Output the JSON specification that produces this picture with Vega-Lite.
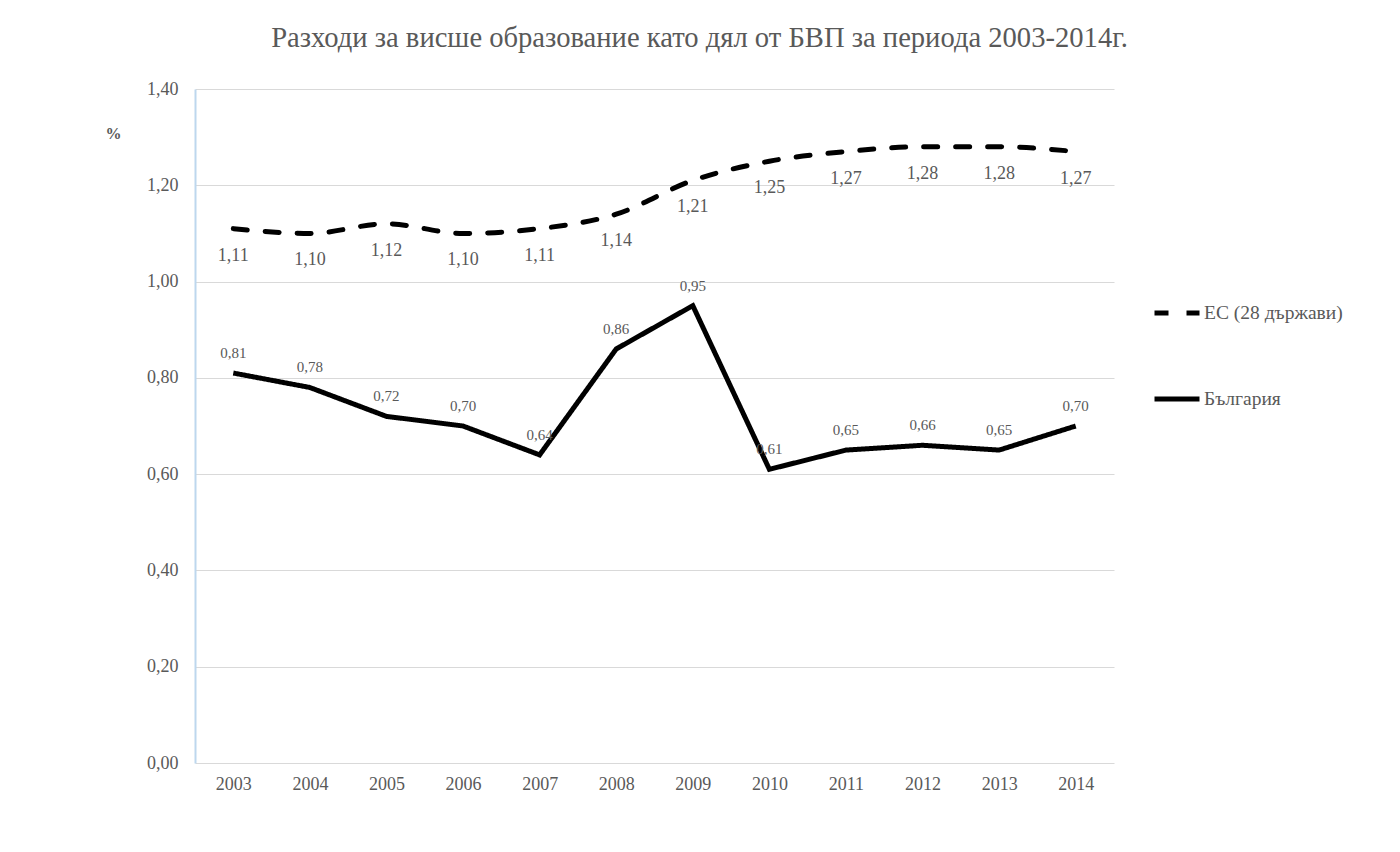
{
  "$schema": "https://vega.github.io/schema/vega-lite/v6.json",
  "width": 919,
  "height": 674,
  "autosize": {"type": "none"},
  "padding": {"left": 195, "top": 89, "right": 286, "bottom": 89},
  "background": "white",
  "title": {
    "text": "Разходи за висше образование като дял от БВП за периода 2003-2014г.",
    "font": "Liberation Serif",
    "fontSize": 28.6,
    "fontWeight": "normal",
    "color": "#595959",
    "anchor": "middle",
    "dx": 45,
    "offset": 27
  },
  "data": {
    "values": [
      {"year": "2003", "series": "ЕС (28 държави)", "value": 1.11},
      {"year": "2004", "series": "ЕС (28 държави)", "value": 1.10},
      {"year": "2005", "series": "ЕС (28 държави)", "value": 1.12},
      {"year": "2006", "series": "ЕС (28 държави)", "value": 1.10},
      {"year": "2007", "series": "ЕС (28 държави)", "value": 1.11},
      {"year": "2008", "series": "ЕС (28 държави)", "value": 1.14},
      {"year": "2009", "series": "ЕС (28 държави)", "value": 1.21},
      {"year": "2010", "series": "ЕС (28 държави)", "value": 1.25},
      {"year": "2011", "series": "ЕС (28 държави)", "value": 1.27},
      {"year": "2012", "series": "ЕС (28 държави)", "value": 1.28},
      {"year": "2013", "series": "ЕС (28 държави)", "value": 1.28},
      {"year": "2014", "series": "ЕС (28 държави)", "value": 1.27},
      {"year": "2003", "series": "България", "value": 0.81},
      {"year": "2004", "series": "България", "value": 0.78},
      {"year": "2005", "series": "България", "value": 0.72},
      {"year": "2006", "series": "България", "value": 0.70},
      {"year": "2007", "series": "България", "value": 0.64},
      {"year": "2008", "series": "България", "value": 0.86},
      {"year": "2009", "series": "България", "value": 0.95},
      {"year": "2010", "series": "България", "value": 0.61},
      {"year": "2011", "series": "България", "value": 0.65},
      {"year": "2012", "series": "България", "value": 0.66},
      {"year": "2013", "series": "България", "value": 0.65},
      {"year": "2014", "series": "България", "value": 0.70}
    ]
  },
  "encoding": {
    "x": {
      "field": "year",
      "type": "ordinal",
      "scale": {"type": "point", "padding": 0.5},
      "axis": {
        "title": null,
        "labelAngle": 0,
        "domain": false,
        "ticks": false,
        "grid": false,
        "labelPadding": 12,
        "labelFontSize": 18,
        "labelFont": "Liberation Serif",
        "labelColor": "#595959"
      }
    },
    "y": {
      "field": "value",
      "type": "quantitative",
      "scale": {"domain": [0, 1.4], "nice": false},
      "axis": {
        "values": [0, 0.2, 0.4, 0.6, 0.8, 1.0, 1.2, 1.4],
        "format": ".2f",
        "title": "%",
        "titleAngle": 0,
        "titleX": -82,
        "titleY": 44,
        "titleAlign": "center",
        "titleBaseline": "middle",
        "titleFont": "Liberation Serif",
        "titleFontSize": 16,
        "titleFontWeight": "bold",
        "titleColor": "#595959",
        "domain": true,
        "domainColor": "#bdd7ee",
        "domainWidth": 2,
        "ticks": false,
        "labelPadding": 17,
        "labelFontSize": 18,
        "labelFont": "Liberation Serif",
        "labelColor": "#595959",
        "gridColor": "#d9d9d9",
        "gridWidth": 1
      }
    }
  },
  "layer": [
    {
      "mark": {"type": "line", "color": "black", "strokeWidth": 5, "strokeCap": "round", "interpolate": "monotone"},
      "transform": [{"filter": "datum.series === 'ЕС (28 държави)'"}],
      "encoding": {
        "strokeDash": {
          "field": "series",
          "type": "nominal",
          "scale": {"domain": ["ЕС (28 държави)", "България"], "range": [[14, 18], [1, 0]]},
          "legend": {
            "title": null,
            "orient": "none",
            "legendX": 957,
            "legendY": 199,
            "symbolType": "stroke",
            "symbolSize": 2025,
            "symbolStrokeWidth": 5,
            "symbolStrokeColor": "black",
            "labelFont": "Liberation Serif",
            "labelFontSize": 19.5,
            "labelColor": "#595959",
            "labelOffset": 2,
            "rowPadding": 51,
            "labelLimit": 300
          }
        }
      }
    },
    {
      "mark": {"type": "line", "color": "black", "strokeWidth": 5, "strokeCap": "butt"},
      "transform": [{"filter": "datum.series === 'България'"}],
      "encoding": {
        "strokeDash": {
          "field": "series",
          "type": "nominal",
          "scale": {"domain": ["ЕС (28 държави)", "България"], "range": [[14, 18], [1, 0]]},
          "legend": {
            "title": null,
            "orient": "none",
            "legendX": 957,
            "legendY": 199,
            "symbolType": "stroke",
            "symbolSize": 2025,
            "symbolStrokeWidth": 5,
            "symbolStrokeColor": "black",
            "labelFont": "Liberation Serif",
            "labelFontSize": 19.5,
            "labelColor": "#595959",
            "labelOffset": 2,
            "rowPadding": 51,
            "labelLimit": 300
          }
        }
      }
    },
    {
      "mark": {"type": "text", "font": "Liberation Serif", "fontSize": 18, "color": "#595959", "baseline": "middle", "dy": 27},
      "transform": [{"filter": "datum.series === 'ЕС (28 държави)'"}],
      "encoding": {
        "text": {"field": "value", "type": "quantitative", "format": ".2f"}
      }
    },
    {
      "mark": {"type": "text", "font": "Liberation Serif", "fontSize": 15, "color": "#595959", "baseline": "middle", "dy": -20},
      "transform": [{"filter": "datum.series === 'България'"}],
      "encoding": {
        "text": {"field": "value", "type": "quantitative", "format": ".2f"}
      }
    }
  ],
  "config": {
    "locale": {
      "number": {"decimal": ",", "thousands": " ", "grouping": [3], "currency": ["", ""]}
    },
    "view": {"stroke": null}
  }
}
